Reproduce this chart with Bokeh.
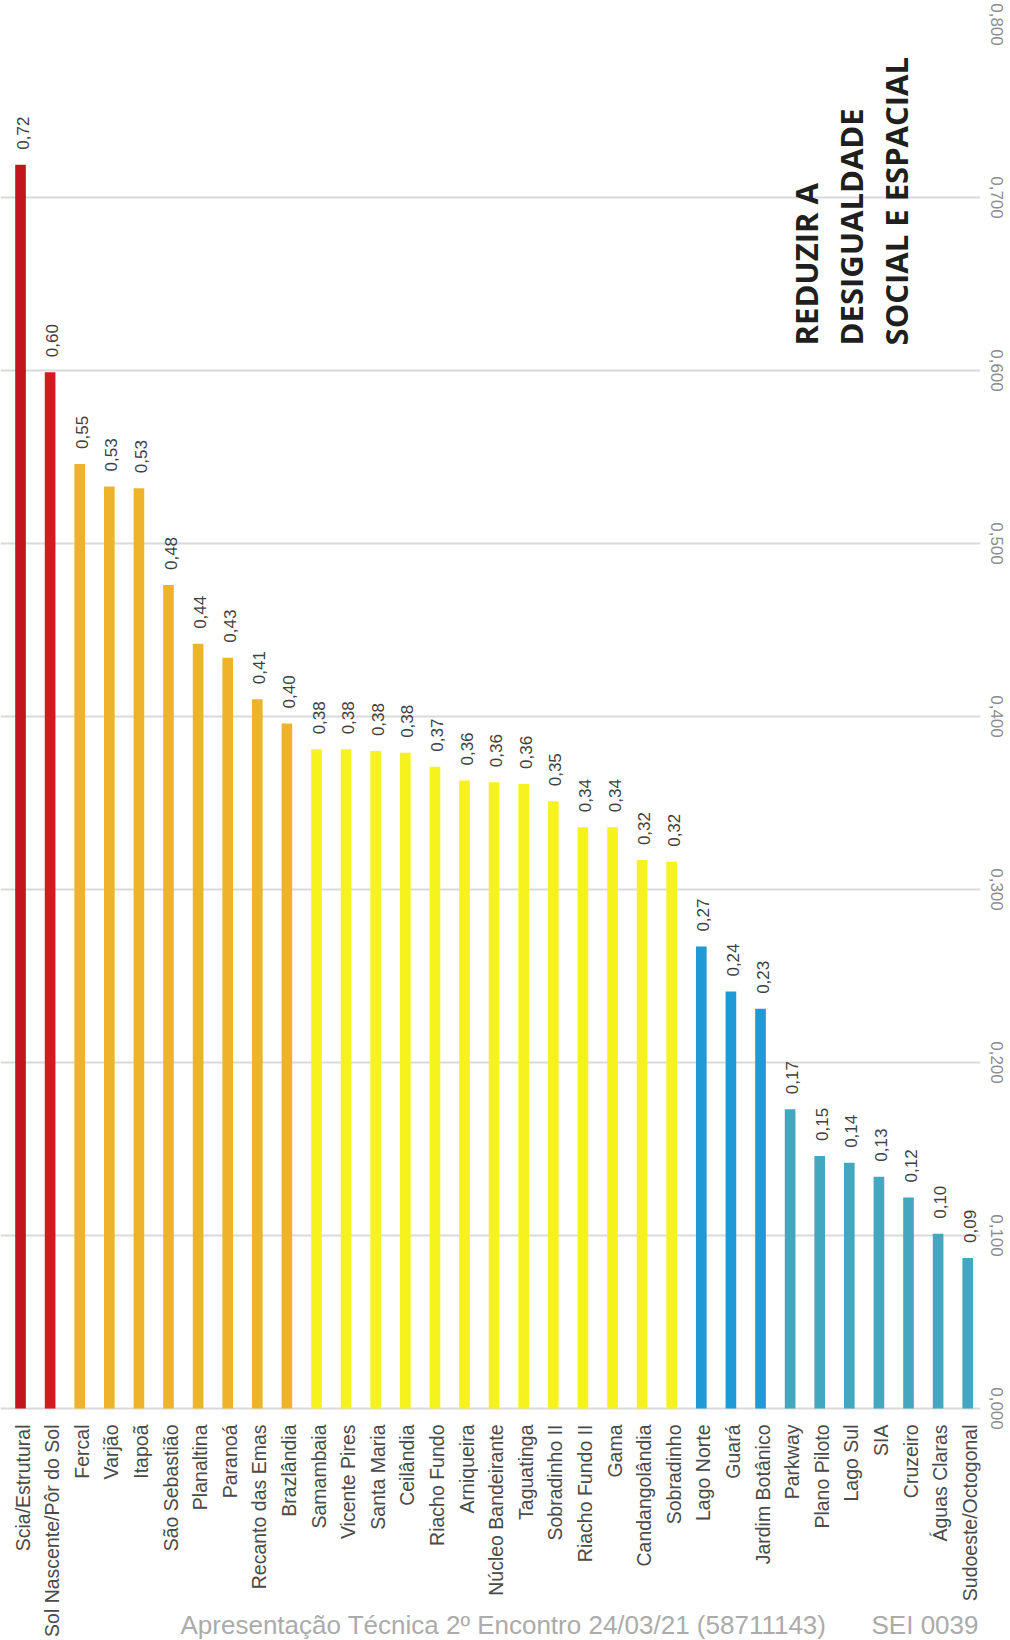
import math
from bokeh.plotting import figure
from bokeh.models import ColumnDataSource, Range1d, FixedTicker, CustomJSTickFormatter
from bokeh.core.properties import value
from bokeh.embed import file_html
from bokeh.resources import INLINE

categories = [
    "Scia/Estrutural", "Sol Nascente/Pôr do Sol", "Fercal", "Varjão", "Itapoã",
    "São Sebastião", "Planaltina", "Paranoá", "Recanto das Emas", "Brazlândia",
    "Samambaia", "Vicente Pires", "Santa Maria", "Ceilândia", "Riacho Fundo",
    "Arniqueira", "Núcleo Bandeirante", "Taguatinga", "Sobradinho II", "Riacho Fundo II",
    "Gama", "Candangolândia", "Sobradinho", "Lago Norte", "Guará",
    "Jardim Botânico", "Parkway", "Plano Piloto", "Lago Sul", "SIA",
    "Cruzeiro", "Águas Claras", "Sudoeste/Octogonal",
]
values = [
    0.719, 0.599, 0.546, 0.533, 0.532,
    0.476, 0.442, 0.434, 0.410, 0.396,
    0.381, 0.381, 0.380, 0.379, 0.371,
    0.363, 0.362, 0.361, 0.351, 0.336,
    0.336, 0.317, 0.316, 0.267, 0.241,
    0.231, 0.173, 0.146, 0.142, 0.134,
    0.122, 0.101, 0.087,
]
groups = (["alta"] * 2 + ["media_alta"] * 8 + ["media"] * 13 +
          ["media_baixa"] * 3 + ["baixa"] * 7)
value_ticks = [0.0, 0.1, 0.2, 0.3, 0.4, 0.5, 0.6, 0.7, 0.8]
title_lines = ["REDUZIR A", "DESIGUALDADE", "SOCIAL E ESPACIAL"]
footer_texts = ["Apresentação Técnica 2º Encontro 24/03/21 (58711143)", "SEI 0039"]

palette = {
    "alta": "#D41A1E",
    "media_alta": "#EDB42B",
    "media": "#F6F21E",
    "media_baixa": "#1E9AD6",
    "baixa": "#43A8BF",
}
colors = [palette[g] for g in groups]
colors[0] = "#C2161F"

xs = list(range(len(categories)))
labels = [f"{v:.2f}".replace(".", ",") for v in values]

p = figure(width=1010, height=1640, output_backend="svg", toolbar_location=None,
           x_range=Range1d(-0.676, 32.432), y_range=Range1d(-0.1341, 0.8),
           y_axis_location="right",
           min_border_left=0, min_border_top=24, min_border_bottom=0,
           min_border_right=30)
p.outline_line_color = None
p.background_fill_color = "white"
p.border_fill_color = "white"
p.xaxis.visible = False

src = ColumnDataSource(dict(x=xs, top=values, color=colors, label=labels,
                            name=categories, base=[0.0] * len(xs)))
p.vbar(x="x", top="top", bottom=0, width=0.36, fill_color="color",
       line_color=None, source=src)
# value labels above bars
p.text(x="x", y="top", text="label", angle=math.pi / 2, text_align="left",
       text_baseline="middle", y_offset=-15, x_offset=2,
       text_font=value("Liberation Sans"), text_font_size="17px",
       text_color="#404040", source=src)

# footer (watermark)
p.text(x=[5.405, 28.75], y=[-0.1254, -0.1254], text=footer_texts,
       text_align="left", text_baseline="alphabetic",
       text_font=value("Liberation Sans"), text_font_size="26px",
       text_color="#ABABAB")

# category labels below the baseline
p.text(x="x", y="base", text="name", angle=math.pi / 2, text_align="right",
       text_baseline="middle", y_offset=16, x_offset=2,
       text_font=value("Liberation Sans"), text_font_size="19.5px",
       text_color="#4a4a4a", source=src)

# value axis (right)
ya = p.yaxis[0]
ya.ticker = FixedTicker(ticks=value_ticks)
ya.formatter = CustomJSTickFormatter(code="return tick.toFixed(3).replace('.', ',');")
ya.major_label_orientation = "vertical"
ya.major_label_text_font = "Liberation Sans"
ya.major_label_text_font_size = "17px"
ya.major_label_text_color = "#8c8c8c"
ya.major_label_standoff = 10
ya.axis_line_color = None
ya.major_tick_line_color = None
ya.minor_tick_line_color = None
ya.major_tick_out = 0
ya.major_tick_in = 0

p.xgrid.visible = False
p.ygrid.ticker = FixedTicker(ticks=value_ticks)
p.ygrid.grid_line_color = "#D9D9D9"
p.ygrid.grid_line_width = 2

# title block
p.text(x=[26.52, 28.07, 29.59], y=[0.6145] * 3, text=title_lines,
       angle=math.pi / 2, text_align="left", text_baseline="middle",
       text_font=value("Open Sans"), text_font_style="bold",
       text_font_size="31px", text_color="#1f1f1f")

open("out.html", "w").write(file_html(p, INLINE))
